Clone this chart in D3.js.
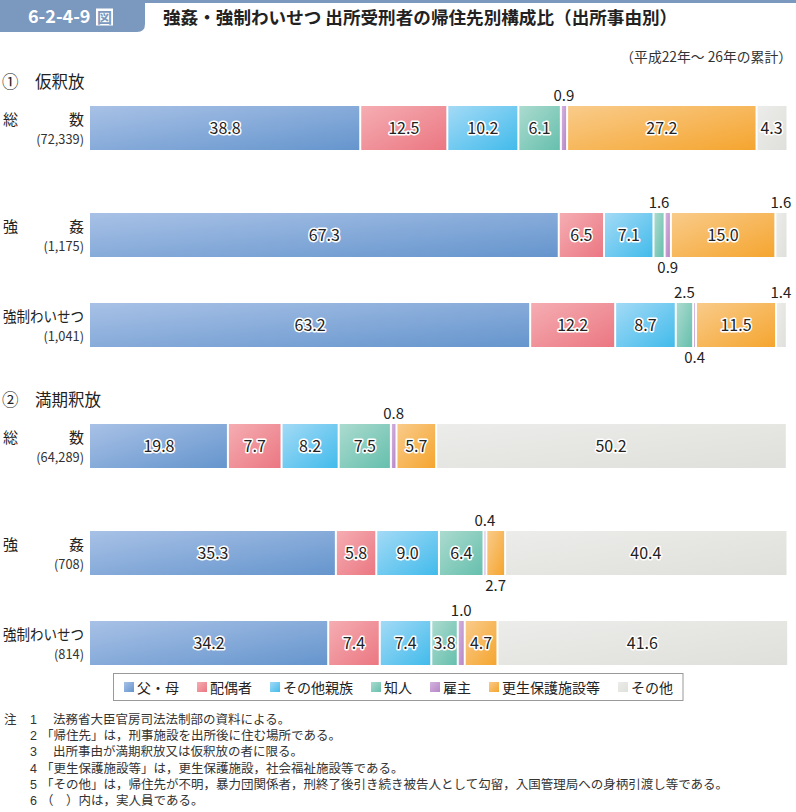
<!DOCTYPE html>
<html><head><meta charset="utf-8">
<script src="https://cdn.jsdelivr.net/npm/d3@7"></script>
<style>
html,body{margin:0;padding:0;background:#fff;}
svg text{font-family:"Noto Sans CJK JP","Noto Sans",sans-serif;}
svg text.notes{font-family:"Liberation Sans","Noto Sans CJK JP",sans-serif;}
</style></head>
<body>
<svg id="chart" width="796" height="812"></svg>
<script>
// ---- data ----
const categories = ["父・母","配偶者","その他親族","知人","雇主","更生保護施設等","その他"];
const sections = ["①　仮釈放","②　満期釈放"];
const rowNames = ["総　　　数","強　　　姦","強制わいせつ"];
const karishaku_counts = ["(72,339)","(1,175)","(1,041)"];
const manki_counts = ["(64,289)","(708)","(814)"];
const karishaku_total   = [38.8,12.5,10.2,6.1,0.9,27.2,4.3];
const karishaku_gokan   = [67.3,6.5,7.1,1.6,0.9,15.0,1.6];
const karishaku_waisetsu= [63.2,12.2,8.7,2.5,0.4,11.5,1.4];
const manki_total   = [19.8,7.7,8.2,7.5,0.8,5.7,50.2];
const manki_gokan   = [35.3,5.8,9.0,6.4,0.4,2.7,40.4];
const manki_waisetsu= [34.2,7.4,7.4,3.8,1.0,4.7,41.6];
const notes = [
 ["注","1","法務省大臣官房司法法制部の資料による。"],
 ["","2","「帰住先」は，刑事施設を出所後に住む場所である。"],
 ["","3","出所事由が満期釈放又は仮釈放の者に限る。"],
 ["","4","「更生保護施設等」は，更生保護施設，社会福祉施設等である。"],
 ["","5","「その他」は，帰住先が不明，暴力団関係者，刑終了後引き続き被告人として勾留，入国管理局への身柄引渡し等である。"],
 ["","6","（　）内は，実人員である。"]
];

// ---- styles ----
const colorsLight = ["#a8c1e6","#f5adb2","#a3daf6","#abdbcf","#d3b3de","#f9cb8a","#ececea"];
const colorsDark  = ["#6595cd","#eb7782","#42bbeb","#66bfad","#b686c6","#f5a52f","#dfdfdb"];

const rows = [
  {sec:0, name:rowNames[0], count:karishaku_counts[0], vals:karishaku_total},
  {sec:0, name:rowNames[1], count:karishaku_counts[1], vals:karishaku_gokan},
  {sec:0, name:rowNames[2], count:karishaku_counts[2], vals:karishaku_waisetsu},
  {sec:1, name:rowNames[0], count:manki_counts[0], vals:manki_total},
  {sec:1, name:rowNames[1], count:manki_counts[1], vals:manki_gokan},
  {sec:1, name:rowNames[2], count:manki_counts[2], vals:manki_waisetsu}
];
rows.forEach((r,i)=>r.key="r"+i);

const svg = d3.select("#chart");
const defs = svg.append("defs");
categories.forEach((c,i)=>{
  const g = defs.append("linearGradient").attr("id","g"+i)
    .attr("x1","0").attr("y1","0").attr("x2","1").attr("y2","1");
  g.append("stop").attr("offset","0%").attr("stop-color",colorsLight[i]);
  g.append("stop").attr("offset","100%").attr("stop-color",colorsDark[i]);
});

// ---- header ----
const hdrBlue = "#7b98bf";
svg.append("path").attr("d","M0,0 H145 V24 Q145,32 137,32 H0 Z").attr("fill",hdrBlue);
svg.append("line").attr("x1",140).attr("x2",796).attr("y1",1.5).attr("y2",1.5)
  .attr("stroke",hdrBlue).attr("stroke-width",3);
svg.append("text").attr("x",28).attr("y",23).attr("fill","#fff")
  .attr("font-size",18).attr("font-weight","bold").text("6-2-4-9");
svg.append("rect").attr("x",96).attr("y",8.5).attr("width",17).attr("height",17).attr("fill","#fff");
svg.append("text").attr("x",104.5).attr("y",22.5).attr("text-anchor","middle").attr("fill",hdrBlue)
  .attr("font-size",15).attr("font-weight","bold").text("図");
svg.append("text").attr("x",163).attr("y",24).attr("fill","#222")
  .attr("font-size",17.6).attr("font-weight","bold")
  .text("強姦・強制わいせつ 出所受刑者の帰住先別構成比（出所事由別）");
svg.append("text").attr("x",792).attr("y",62).attr("text-anchor","end").attr("fill","#333")
  .attr("font-size",13.8).text("（平成22年～ 26年の累計）");

// section headers
const secY = d3.scaleOrdinal().domain([0,1]).range([88,406]);
sections.forEach((s,i)=>{
  svg.append("text").attr("x",2).attr("y",secY(i)).attr("fill","#222")
    .attr("font-size",16.5).attr("xml:space","preserve").text(s);
});

// ---- scales ----
const x = d3.scaleLinear().domain([0,100]).range([90,786.5]);
const yTop = d3.scaleOrdinal().domain(rows.map(r=>r.key)).range([106,213,303,424,531,621]);
const barH = 44;

const gRows = svg.selectAll("g.row").data(rows).join("g").attr("class","row");

// row labels
gRows.each(function(r){
  const g = d3.select(this);
  const t = yTop(r.key);
  if (r.name === "強制わいせつ") {
    g.append("text").attr("x",3).attr("y",t+19)
      .attr("font-size",15).attr("fill","#222")
      .attr("textLength",81).attr("lengthAdjust","spacingAndGlyphs").text(r.name);
  } else {
    const parts = r.name.replace(/　/g,"").split("");
    g.append("text").attr("x",3).attr("y",t+19).attr("font-size",15).attr("fill","#222").text(parts[0]);
    g.append("text").attr("x",84).attr("y",t+19).attr("text-anchor","end").attr("font-size",15).attr("fill","#222").text(parts[1]);
  }
  g.append("text").attr("x",84).attr("y",t+38).attr("text-anchor","end")
    .attr("font-size",12.8).attr("fill","#333").text(r.count);
});

// segments
gRows.each(function(r){
  const g = d3.select(this);
  const t = yTop(r.key);
  let cum = 0;
  const segs = r.vals.map((v,i)=>{ const s={i,v,start:cum,end:cum+v}; cum+=v; return s; });
  g.selectAll("rect.seg").data(segs).join("rect").attr("class","seg")
    .attr("x",d=>x(d.start)+(d.i>0?1:0))
    .attr("width",d=>Math.max(0.5, x(d.end)-x(d.start)-(d.i>0?1:0)-(d.i<segs.length-1?1:0)))
    .attr("y",t).attr("height",barH)
    .attr("fill",d=>`url(#g${d.i})`);
  // labels
  let alt = 0;
  segs.forEach(d=>{
    const cx = (x(d.start)+x(d.end))/2;
    const txt = d.v.toFixed(1);
    if (d.v >= 3) {
      alt = 0;
      g.append("text").attr("x",cx).attr("y",t+barH/2+6).attr("text-anchor","middle")
        .attr("font-size",16).attr("fill","#222")
        .attr("stroke","#fff").attr("stroke-width",3).attr("stroke-linejoin","round")
        .attr("paint-order","stroke").text(txt);
    } else {
      const above = alt % 2 === 0;
      alt++;
      g.append("text").attr("x",cx).attr("y", above ? t-5 : t+barH+16)
        .attr("text-anchor","middle").attr("font-size",15).attr("fill","#222").text(txt);
    }
  });
});

// ---- legend ----
const leg = svg.append("g");
const legBox = leg.append("rect").attr("x",113.5).attr("y",673.5).attr("height",27)
  .attr("fill","#fff").attr("stroke","#999").attr("stroke-width",1);
let lx = 124;
categories.forEach((c,i)=>{
  leg.append("rect").attr("x",lx).attr("y",682).attr("width",10).attr("height",10)
    .attr("fill",`url(#g${i})`);
  const t = leg.append("text").attr("x",lx+13).attr("y",692.5).attr("font-size",14)
    .attr("fill","#222").text(c);
  lx += 13 + t.node().getComputedTextLength() + 18;
});
legBox.attr("width", lx - 18 + 10 - 113.5);

// ---- notes ----
const ny = d3.scalePoint().domain(d3.range(notes.length)).range([724,805]);
notes.forEach((n,i)=>{
  if (n[0]) svg.append("text").attr("class","notes").attr("x",4).attr("y",ny(i))
    .attr("font-size",12.5).attr("fill","#333").text(n[0]);
  svg.append("text").attr("class","notes").attr("x",30).attr("y",ny(i))
    .attr("font-size",12.5).attr("fill","#333").text(n[1]);
  svg.append("text").attr("class","notes")
    .attr("x",n[2].startsWith("「")||n[2].startsWith("（")?41:53).attr("y",ny(i))
    .attr("font-size",12.5).attr("fill","#333").text(n[2]);
});
</script>
</body></html>
